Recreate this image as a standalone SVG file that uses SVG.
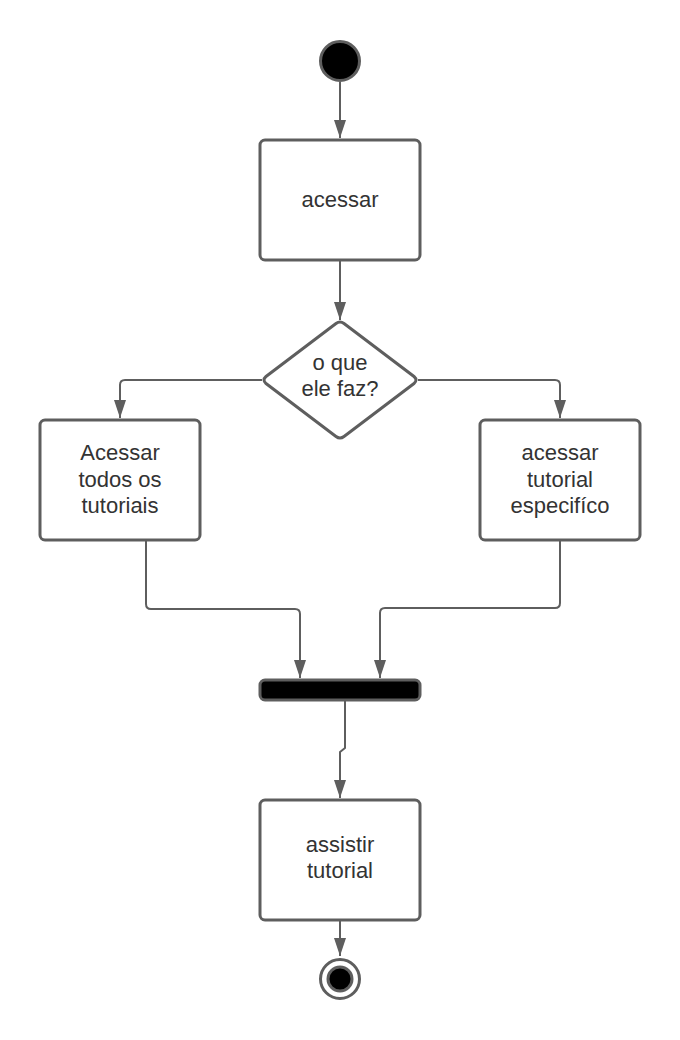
<svg xmlns="http://www.w3.org/2000/svg" width="680" height="1040" viewBox="0 0 680 1040">
<defs>
<style>
.box{fill:#fff;stroke:#5e5e5e;stroke-width:3}
.lbl{font-family:"Liberation Sans",Arial,sans-serif;font-size:22px;fill:#333;text-anchor:middle}
.edge{fill:none;stroke:#5e5e5e;stroke-width:2;stroke-linejoin:round}
</style>
<marker id="ah" viewBox="0 0 18 12" refX="18" refY="6" markerWidth="18" markerHeight="12" markerUnits="userSpaceOnUse" orient="auto">
<path d="M0,0 L18,6 L0,12 Z" fill="#5e5e5e"/>
</marker>
</defs>
<rect width="680" height="1040" fill="#fff"/>
<g id="connectors">
<path class="edge" d="M340,82 V138" marker-end="url(#ah)"/>
<path class="edge" d="M340,260 V320" marker-end="url(#ah)"/>
<path class="edge" d="M262,380 H125 Q120,380 120,385 V418" marker-end="url(#ah)"/>
<path class="edge" d="M418,380 H555 Q560,380 560,385 V418" marker-end="url(#ah)"/>
<path class="edge" d="M146,540 V604 Q146,609 151,609 H295 Q300,609 300,614 V678" marker-end="url(#ah)"/>
<path class="edge" d="M560,540 V603 Q560,608 555,608 H385 Q380,608 380,613 V678" marker-end="url(#ah)"/>
<path class="edge" d="M345,700 V748 L340,752 V798" marker-end="url(#ah)"/>
<path class="edge" d="M340,920 V956" marker-end="url(#ah)"/>
</g>
<g id="start">
<circle cx="340" cy="61" r="19.5" fill="#000" stroke="#5e5e5e" stroke-width="3"/>
</g>
<g id="acessar">
<rect class="box" x="260" y="140" width="160" height="120" rx="5"/>
<text class="lbl" x="340" y="207">acessar</text>
</g>
<g id="decision">
<path class="box" d="M336,323.5 Q340,320.5 344,323.5 L414,376.5 Q418,380 414,383.5 L344,436.5 Q340,439.5 336,436.5 L266,383.5 Q262,380 266,376.5 Z"/>
<text class="lbl" x="340" y="370">o que</text>
<text class="lbl" x="340" y="396">ele faz?</text>
</g>
<g id="todos">
<rect class="box" x="40" y="420" width="160" height="120" rx="5"/>
<text class="lbl" x="120" y="460">Acessar</text>
<text class="lbl" x="120" y="487">todos os</text>
<text class="lbl" x="120" y="513">tutoriais</text>
</g>
<g id="especifico">
<rect class="box" x="480" y="420" width="160" height="120" rx="5"/>
<text class="lbl" x="560" y="460">acessar</text>
<text class="lbl" x="560" y="487">tutorial</text>
<text class="lbl" x="560" y="513">especifíco</text>
</g>
<g id="join">
<rect x="260" y="680" width="160" height="20" rx="5" fill="#000" stroke="#5e5e5e" stroke-width="3"/>
</g>
<g id="assistir">
<rect class="box" x="260" y="800" width="160" height="120" rx="5"/>
<text class="lbl" x="340" y="852">assistir</text>
<text class="lbl" x="340" y="878">tutorial</text>
</g>
<g id="end">
<circle cx="340" cy="979" r="19.5" fill="#fff" stroke="#5e5e5e" stroke-width="3"/>
<circle cx="340" cy="979" r="12" fill="#000" stroke="#5e5e5e" stroke-width="3"/>
</g>
</svg>
